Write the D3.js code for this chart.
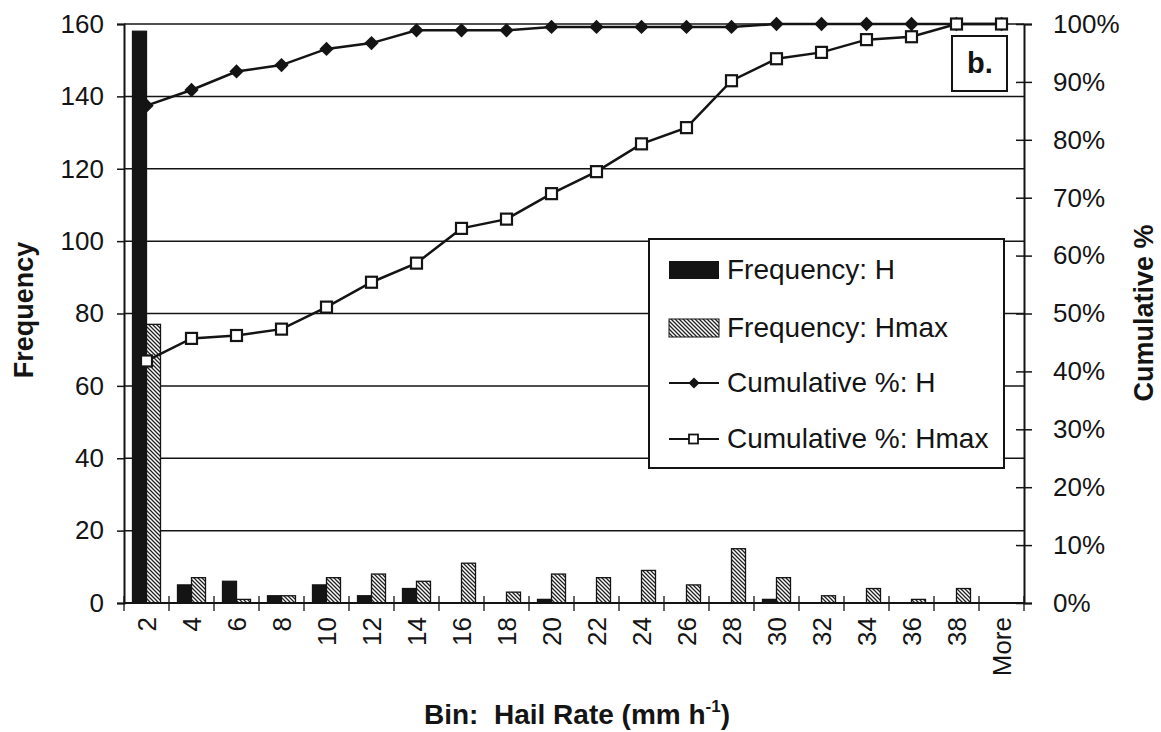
<!DOCTYPE html>
<html>
<head>
<meta charset="utf-8">
<script src="https://cdn.jsdelivr.net/npm/d3@7"></script>
<style>
  html, body { margin: 0; padding: 0; background: #fff; }
  svg { display: block; }
  text { font-family: "Liberation Sans", Arial, sans-serif; fill: #141414; }
</style>
</head>
<body>
<svg id="chart" width="1161" height="732"></svg>
<script>
// Hail rate bins (mm h^-1)
const bins = ["2", "4", "6", "8", "10", "12", "14", "16", "18", "20",
              "22", "24", "26", "28", "30", "32", "34", "36", "38", "More"];

// Frequency per bin
const freqH    = [158, 5, 6, 2, 5, 2, 4, 0, 0, 1, 0, 0, 0, 0, 1, 0, 0, 0, 0, 0];
const freqHmax = [77, 7, 1, 2, 7, 8, 6, 11, 3, 8, 7, 9, 5, 15, 7, 2, 4, 1, 4, 0];

// Cumulative percentage per bin
const cumH    = [85.9, 88.6, 91.8, 92.9, 95.7, 96.7, 98.9, 98.9, 98.9, 99.5,
                 99.5, 99.5, 99.5, 99.5, 100, 100, 100, 100, 100, 100];
const cumHmax = [41.8, 45.7, 46.2, 47.3, 51.1, 55.4, 58.7, 64.7, 66.3, 70.7,
                 74.5, 79.3, 82.1, 90.2, 94.0, 95.1, 97.3, 97.8, 100, 100];

// Axis ticks
const freqTicks = [0, 20, 40, 60, 80, 100, 120, 140, 160];
const pctTicks  = [0, 10, 20, 30, 40, 50, 60, 70, 80, 90, 100];

const seriesNames = ["Frequency: H", "Frequency: Hmax", "Cumulative %: H", "Cumulative %: Hmax"];

const svg = d3.select("#chart");
const ink = "#141414";

const plot = { left: 124, right: 1024, top: 24, bottom: 603 };

const x = d3.scaleBand().domain(bins).range([plot.left, plot.right]).padding(0);
const xSub = d3.scaleBand().domain(["H", "Hmax"]).range([8.5, 36.5]).padding(0);
const yFreq = d3.scaleLinear().domain([0, 160]).range([plot.bottom, plot.top]);
const yPct = d3.scaleLinear().domain([0, 100]).range([plot.bottom, plot.top]);

// Diagonal hatch for the Hmax bars
const defs = svg.append("defs");
const pat = defs.append("pattern")
  .attr("id", "hatch").attr("patternUnits", "userSpaceOnUse")
  .attr("width", 4).attr("height", 4);
pat.append("rect").attr("width", 4).attr("height", 4).attr("fill", "#fff");
pat.append("path")
  .attr("d", "M-1,-1 L5,5 M-1,3 L1,5 M3,-1 L5,1")
  .attr("stroke", "#222").attr("stroke-width", 1.3);

// Horizontal gridlines at the frequency ticks
svg.append("g")
  .selectAll("line")
  .data(freqTicks.filter(d => d > 0))
  .join("line")
  .attr("x1", plot.left).attr("x2", plot.right)
  .attr("y1", d => yFreq(d)).attr("y2", d => yFreq(d))
  .attr("stroke", ink).attr("stroke-width", 1.5);

// Bars
const barData = [];
bins.forEach((b, i) => {
  barData.push({ bin: b, key: "H", value: freqH[i] });
  barData.push({ bin: b, key: "Hmax", value: freqHmax[i] });
});
svg.append("g")
  .selectAll("rect")
  .data(barData.filter(d => d.value > 0))
  .join("rect")
  .attr("x", d => x(d.bin) + xSub(d.key))
  .attr("width", xSub.bandwidth())
  .attr("y", d => yFreq(d.value))
  .attr("height", d => yFreq(0) - yFreq(d.value))
  .attr("fill", d => d.key === "H" ? ink : "url(#hatch)")
  .attr("stroke", ink)
  .attr("stroke-width", 1.3);

// Left axis
const leftAxis = d3.axisLeft(yFreq).tickValues(freqTicks).tickSize(7).tickPadding(13);
const gL = svg.append("g").attr("transform", `translate(${plot.left},0)`).call(leftAxis);
gL.select(".domain").attr("stroke", ink).attr("stroke-width", 2);
gL.selectAll(".tick line").attr("stroke", ink).attr("stroke-width", 1.5);
gL.selectAll(".tick text").attr("font-size", 26).attr("fill", ink)
  .attr("font-family", "'Liberation Sans', Arial, sans-serif");

// Right axis (ticks cross the axis line)
const rightAxis = d3.axisRight(yPct).tickValues(pctTicks).tickSize(8).tickPadding(21)
  .tickFormat(d => d + "%");
const gR = svg.append("g").attr("transform", `translate(${plot.right},0)`).call(rightAxis);
gR.select(".domain").attr("stroke", ink).attr("stroke-width", 2);
gR.selectAll(".tick line").attr("x1", -8).attr("stroke", ink).attr("stroke-width", 1.5);
gR.selectAll(".tick text").attr("font-size", 26).attr("fill", ink)
  .attr("font-family", "'Liberation Sans', Arial, sans-serif");

// Bottom axis: line with ticks at bin boundaries, rotated labels
svg.append("line")
  .attr("x1", plot.left).attr("x2", plot.right)
  .attr("y1", plot.bottom).attr("y2", plot.bottom)
  .attr("stroke", ink).attr("stroke-width", 2);
const boundaries = bins.map(b => x(b)).concat([x(bins[bins.length - 1]) + x.bandwidth()]);
svg.append("g")
  .selectAll("line")
  .data(boundaries)
  .join("line")
  .attr("x1", d => d).attr("x2", d => d)
  .attr("y1", plot.bottom - 7).attr("y2", plot.bottom + 8)
  .attr("stroke", ink).attr("stroke-width", 1.3);
svg.append("g")
  .selectAll("text")
  .data(bins)
  .join("text")
  .attr("transform", d => `translate(${x(d) + x.bandwidth() / 2},617) rotate(-90)`)
  .attr("text-anchor", "end")
  .attr("dy", "0.36em")
  .attr("font-size", 26)
  .text(d => d);

// Cumulative lines
const lineH = d3.line().x((d, i) => x(bins[i]) + x.bandwidth() / 2).y(d => yPct(d));
svg.append("path").datum(cumH)
  .attr("d", lineH).attr("fill", "none").attr("stroke", ink).attr("stroke-width", 2.5);
svg.append("path").datum(cumHmax)
  .attr("d", lineH).attr("fill", "none").attr("stroke", ink).attr("stroke-width", 2.5);

// Diamond markers for H
const diamond = d3.symbol().type(d3.symbolDiamond2).size(130);
svg.append("g")
  .selectAll("path")
  .data(cumH)
  .join("path")
  .attr("transform", (d, i) => `translate(${x(bins[i]) + x.bandwidth() / 2},${yPct(d)})`)
  .attr("d", diamond)
  .attr("fill", ink);

// Open square markers for Hmax
svg.append("g")
  .selectAll("rect")
  .data(cumHmax)
  .join("rect")
  .attr("x", (d, i) => x(bins[i]) + x.bandwidth() / 2 - 5.5)
  .attr("y", d => yPct(d) - 5.5)
  .attr("width", 11).attr("height", 11)
  .attr("fill", "#fff").attr("stroke", ink).attr("stroke-width", 2.2);

// Panel label box
const pb = svg.append("g");
pb.append("rect").attr("x", 952).attr("y", 36).attr("width", 55).attr("height", 55)
  .attr("fill", "#fff").attr("stroke", ink).attr("stroke-width", 2);
pb.append("text").attr("x", 980).attr("y", 73).attr("text-anchor", "middle")
  .attr("font-size", 29).attr("font-weight", "bold").text("b.");

// Legend
const lg = svg.append("g");
lg.append("rect").attr("x", 649).attr("y", 239).attr("width", 355).attr("height", 229)
  .attr("fill", "#fff").attr("stroke", ink).attr("stroke-width", 2);
const rowY = [270, 328, 383, 439];
lg.append("rect").attr("x", 669).attr("y", rowY[0] - 9).attr("width", 50).attr("height", 18)
  .attr("fill", ink);
lg.append("rect").attr("x", 669).attr("y", rowY[1] - 9).attr("width", 50).attr("height", 18)
  .attr("fill", "url(#hatch)").attr("stroke", ink).attr("stroke-width", 1);
lg.append("line").attr("x1", 669).attr("x2", 719).attr("y1", rowY[2]).attr("y2", rowY[2])
  .attr("stroke", ink).attr("stroke-width", 2.2);
lg.append("path").attr("transform", `translate(694,${rowY[2]})`)
  .attr("d", d3.symbol().type(d3.symbolDiamond2).size(80)).attr("fill", ink);
lg.append("line").attr("x1", 669).attr("x2", 719).attr("y1", rowY[3]).attr("y2", rowY[3])
  .attr("stroke", ink).attr("stroke-width", 2.2);
lg.append("rect").attr("x", 689).attr("y", rowY[3] - 4.5).attr("width", 9).attr("height", 9)
  .attr("fill", "#fff").attr("stroke", ink).attr("stroke-width", 1.8);
lg.selectAll("text.lab")
  .data(seriesNames)
  .join("text")
  .attr("class", "lab")
  .attr("x", 727)
  .attr("y", (d, i) => rowY[i] + 9)
  .attr("font-size", 28)
  .text(d => d);

// Axis titles
svg.append("text")
  .attr("transform", "translate(33,310) rotate(-90)")
  .attr("text-anchor", "middle")
  .attr("font-size", 27).attr("font-weight", "bold")
  .text("Frequency");
svg.append("text")
  .attr("transform", "translate(1153,313) rotate(-90)")
  .attr("text-anchor", "middle")
  .attr("font-size", 27).attr("font-weight", "bold")
  .text("Cumulative %");
const xt = svg.append("text")
  .attr("x", 577).attr("y", 724)
  .attr("text-anchor", "middle")
  .attr("font-size", 28).attr("font-weight", "bold")
  .style("white-space", "pre");
xt.append("tspan").text("Bin:  Hail Rate (mm h");
xt.append("tspan").attr("font-size", 17).attr("dy", -12).text("-1");
xt.append("tspan").attr("dy", 12).text(")");
</script>
</body>
</html>
